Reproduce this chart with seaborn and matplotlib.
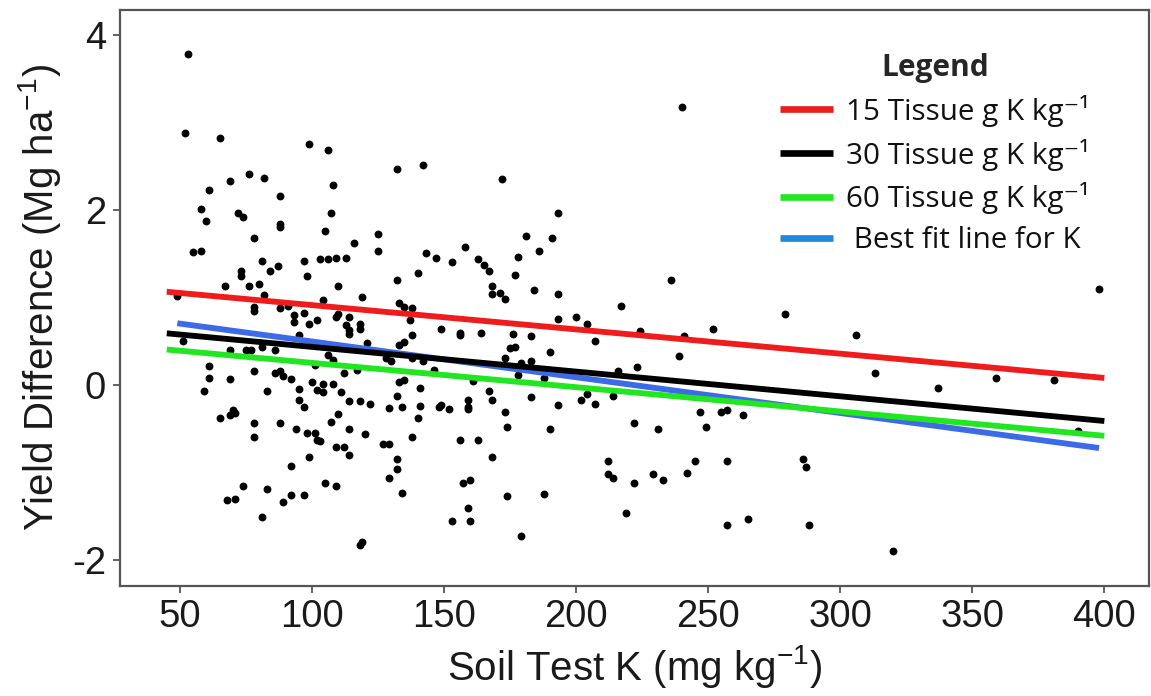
import matplotlib
matplotlib.use("Agg")
import matplotlib.pyplot as plt
import numpy as np
import pandas as pd
import seaborn as sns
from matplotlib.lines import Line2D
from matplotlib import font_manager as fm

# ---------------- data ----------------
soil_k = [53, 52, 65, 99, 106, 76, 82, 69, 61, 108, 88, 58, 60, 72, 74, 107, 88, 88, 105, 125,
          116, 125, 78, 55, 58, 81, 87, 84, 73, 73, 97, 103, 106, 109, 113, 98, 67, 76, 80, 110,
          49, 82, 119, 104, 78, 78, 88, 91, 93, 93, 97, 99, 102, 109, 110, 114, 113, 114, 114, 118,
          118, 121, 51, 95, 69, 75, 77, 81, 86, 106, 108, 128, 61, 61, 59, 69, 78, 86, 88, 89,
          92, 101, 100, 104, 108, 102, 104, 112, 117, 83, 95, 95, 97, 111, 114, 118, 122, 129, 65, 69,
          70, 71, 78, 78, 88, 94, 98, 101, 102, 103, 107, 110, 114, 120, 109, 112, 114, 99, 92, 127,
          129, 129, 74, 83, 105, 109, 68, 71, 92, 97, 89, 81, 118, 119,
          132, 142, 172, 193, 181, 191, 186, 178, 158, 143, 147, 153, 163, 165, 167, 140, 132, 177, 168, 168,
          171, 173, 184, 193, 133, 135, 138, 137, 138, 149, 156, 156, 164, 176, 183, 193, 200, 204, 217, 207,
          133, 135, 175, 177, 190, 130, 138, 142, 173, 179, 183, 146, 216, 223, 133, 135, 161, 178, 188, 141,
          132, 167, 168, 183, 204, 202, 207, 214, 193, 159, 159, 159, 134, 141, 148, 149, 152, 140, 173, 174,
          190, 222, 138, 156, 163, 168, 132, 132, 134, 157, 160, 174, 188, 212, 212, 214, 222, 219, 159, 153,
          160, 179,
          240, 236, 279, 252, 224, 241, 306, 239, 313, 247, 255, 257, 263, 249, 231, 245, 257, 286, 287, 242,
          229, 233, 257, 265, 288, 398, 337, 359, 381, 390, 320]

yield_diff = [3.78, 2.87, 2.82, 2.75, 2.68, 2.41, 2.36, 2.33, 2.22, 2.28, 2.16, 2.01, 1.87, 1.96, 1.92, 1.96, 1.83, 1.80, 1.75, 1.72,
              1.62, 1.53, 1.67, 1.51, 1.53, 1.41, 1.36, 1.30, 1.30, 1.24, 1.41, 1.43, 1.43, 1.45, 1.45, 1.24, 1.13, 1.13, 1.15, 1.13,
              1.01, 1.02, 1.00, 0.97, 0.89, 0.84, 0.87, 0.90, 0.79, 0.72, 0.82, 0.69, 0.74, 0.77, 0.81, 0.77, 0.68, 0.62, 0.58, 0.69,
              0.64, 0.47, 0.50, 0.57, 0.40, 0.39, 0.39, 0.43, 0.39, 0.34, 0.28, 0.30, 0.21, 0.08, -0.07, 0.06, 0.16, 0.13, 0.15, 0.10,
              0.06, 0.22, 0.03, 0.01, 0.01, -0.06, -0.09, 0.13, 0.17, -0.07, -0.05, -0.18, -0.26, -0.09, -0.19, -0.19, -0.22, -0.27, -0.38, -0.35,
              -0.29, -0.33, -0.44, -0.60, -0.44, -0.51, -0.55, -0.55, -0.63, -0.65, -0.43, -0.34, -0.51, -0.57, -0.71, -0.71, -0.81, -0.83, -0.93, -0.68,
              -0.68, -1.07, -1.16, -1.19, -1.12, -1.16, -1.32, -1.31, -1.26, -1.26, -1.34, -1.51, -1.83, -1.80,
              2.46, 2.51, 2.35, 1.96, 1.70, 1.67, 1.53, 1.46, 1.57, 1.50, 1.45, 1.40, 1.43, 1.37, 1.30, 1.28, 1.20, 1.25, 1.13, 1.03,
              1.05, 0.98, 1.08, 1.04, 0.93, 0.89, 0.88, 0.74, 0.57, 0.64, 0.59, 0.57, 0.59, 0.58, 0.55, 0.75, 0.77, 0.69, 0.90, 0.50,
              0.45, 0.49, 0.42, 0.43, 0.37, 0.27, 0.30, 0.27, 0.30, 0.25, 0.27, 0.17, 0.15, 0.20, 0.03, 0.05, 0.04, 0.11, 0.07, -0.04,
              -0.13, -0.07, -0.18, -0.14, -0.11, -0.18, -0.22, -0.13, -0.23, -0.18, -0.26, -0.28, -0.26, -0.24, -0.26, -0.23, -0.28, -0.38, -0.31, -0.48,
              -0.51, -0.44, -0.60, -0.63, -0.63, -0.83, -0.85, -0.97, -1.24, -1.12, -1.09, -1.27, -1.25, -0.87, -1.02, -1.07, -1.12, -1.47, -1.41, -1.56,
              -1.56, -1.73,
              3.17, 1.19, 0.81, 0.64, 0.61, 0.55, 0.57, 0.33, 0.13, -0.31, -0.31, -0.29, -0.35, -0.48, -0.51, -0.87, -0.87, -0.85, -0.94, -1.01,
              -1.02, -1.09, -1.60, -1.54, -1.60, 1.09, -0.04, 0.07, 0.05, -0.53, -1.90]

line_names = ["15 Tissue g K kg\u207b\u00b9", "30 Tissue g K kg\u207b\u00b9",
              "60 Tissue g K kg\u207b\u00b9", " Best fit line for K"]
line_x_start = [45, 45, 45, 49]
line_x_end = [400, 400, 400, 398]
line_y_start = [1.06, 0.585, 0.40, 0.70]
line_y_end = [0.075, -0.417, -0.586, -0.726]
line_colors = ["#ee1c1c", "#000000", "#22e622", "#3d6ae6"]
legend_colors = ["#ee1c1c", "#000000", "#22e622", "#1f88d8"]

x_ticks = [50, 100, 150, 200, 250, 300, 350, 400]
y_ticks = [-2, 0, 2, 4]


def pick(names):
    for n in names:
        try:
            fm.findfont(fm.FontProperties(family=n), fallback_to_default=False)
            return n
        except Exception:
            pass
    return "DejaVu Sans"


sns.set_theme(style="white")
axis_font = pick(["Liberation Sans Narrow", "Liberation Sans", "Arial"])
leg_font = pick(["Open Sans", "Lato", "Noto Sans"])
plt.rcParams["font.family"] = [axis_font, "DejaVu Sans"]
plt.rcParams["axes.unicode_minus"] = False
plt.rcParams["mathtext.default"] = "regular"
plt.rcParams["lines.solid_capstyle"] = "butt"

W, H = 1151, 696
fig = plt.figure(figsize=(W / 100, H / 100), dpi=100)
fig.patch.set_facecolor("white")
L, R, T, B = 120, 1149, 10, 585.5
ax = fig.add_axes([L / W, 1 - B / H, (R - L) / W, (B - T) / H])

sns.scatterplot(x=soil_k, y=yield_diff, color="black", s=32, linewidth=0, ax=ax, zorder=2)

rows = []
for n, xs, xe, ys, ye in zip(line_names, line_x_start, line_x_end, line_y_start, line_y_end):
    rows.append({"series": n, "x": xs, "y": ys})
    rows.append({"series": n, "x": xe, "y": ye})
lines_df = pd.DataFrame(rows)
draw_order = [line_names[3], line_names[2], line_names[1], line_names[0]]
palette = dict(zip(line_names, line_colors))
sns.lineplot(data=lines_df, x="x", y="y", hue="series", hue_order=draw_order, palette=palette,
             estimator=None, sort=False, linewidth=4.2, legend=False, ax=ax, zorder=3)

ax.set_xlim(27.3, 416.9)
ax.set_ylim(-2.297, 4.28)
ax.set_xticks(x_ticks)
ax.set_yticks(y_ticks)
ax.set_xticklabels([str(v) for v in x_ticks])
ax.set_yticklabels([str(v) for v in y_ticks])
ax.tick_params(axis="both", which="major", direction="out", length=5, width=1.3,
               color="#555555", labelsize=27.5, labelcolor="#1a1a1a", pad=5,
               bottom=True, left=True)
for sp in ax.spines.values():
    sp.set_color("#555555")
    sp.set_linewidth(1.6)
ax.grid(False)

ax.set_xlabel("Soil Test K (mg kg$^{-1}$)", fontsize=29, color="#1a1a1a")
ax.set_ylabel("Yield Difference (Mg ha$^{-1}$)", fontsize=29, color="#1a1a1a")
ax.xaxis.set_label_coords(0.5, (B - 666) / (B - T))
ax.xaxis.label.set_va("center")
ax.yaxis.set_label_coords((40 - L) / (R - L), 0.5)
ax.yaxis.label.set_va("center")

handles = [Line2D([0], [0], color=c, lw=4.8, solid_capstyle="butt") for c in legend_colors]
leg = ax.legend(handles=handles, labels=line_names, title="Legend", loc="upper left",
                bbox_to_anchor=(774 / W, 1 - 47 / H), bbox_transform=fig.transFigure,
                frameon=False, prop={"family": [leg_font, "DejaVu Sans"], "size": 21.3},
                title_fontproperties={"family": leg_font, "weight": "bold", "size": 21.5},
                handlelength=1.8, handletextpad=0.45, labelspacing=0.4,
                borderpad=0.2, borderaxespad=0)
for t in leg.get_texts():
    t.set_color("#111111")

fig.savefig("out.png", dpi=100, facecolor="white")
